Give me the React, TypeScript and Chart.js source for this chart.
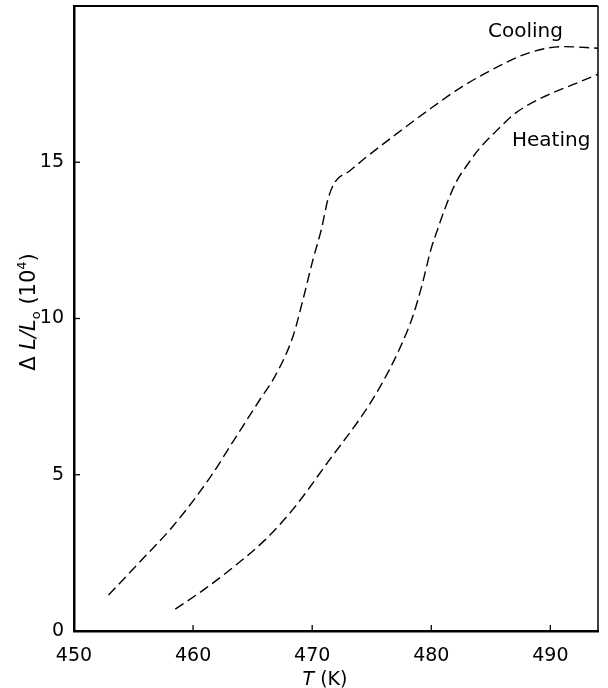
import { useEffect, useRef } from "react";
import { Chart, registerables } from "chart.js";

Chart.register(...registerables);

// Cooling curve: temperature (K) and ΔL/L0 (10^4)
const coolingT = [452.9, 455.5, 458.3, 461.4, 463.5, 465.6, 466.86, 468.39, 469.23, 470.07, 470.77, 471.32, 471.88, 473.14, 474.5, 477.05, 479.8, 482.6, 485.4, 488.2, 491.0, 494.0];
const coolingL = [1.15, 2.2, 3.35, 4.9, 6.15, 7.4, 8.14, 9.43, 10.61, 11.89, 12.85, 13.81, 14.35, 14.72, 15.15, 15.9, 16.68, 17.42, 18.02, 18.5, 18.7, 18.65];

// Heating curve
const heatingT = [458.5, 461.0, 463.4, 466.0, 468.4, 471.5, 474.2, 475.65, 477.3, 478.45, 479.27, 479.97, 480.53, 481.23, 482.07, 483.18, 484.0, 485.4, 487.1, 489.6, 492.4, 494.0];
const heatingL = [0.7, 1.35, 2.05, 2.9, 3.9, 5.5, 6.9, 7.78, 9.0, 10.07, 11.14, 12.21, 12.85, 13.6, 14.35, 15.0, 15.42, 15.98, 16.58, 17.12, 17.56, 17.82];

const xTickValues = [450, 460, 470, 480, 490];
const yTickValues = [0, 5, 10, 15];
const xLimits = [450, 494];
const yLimits = [0, 20];
const seriesNames = ["Cooling", "Heating"];

const FONT = "'DejaVu Sans', 'Liberation Sans', Arial, sans-serif";

type Run = { text: string; font: string; dy?: number };

function drawRuns(ctx: CanvasRenderingContext2D, runs: Run[], cx: number, cy: number) {
  let total = 0;
  const widths = runs.map((r) => {
    ctx.font = r.font;
    const w = ctx.measureText(r.text).width;
    total += w;
    return w;
  });
  let x = cx - total / 2;
  ctx.textBaseline = "alphabetic";
  ctx.textAlign = "left";
  runs.forEach((r, i) => {
    ctx.font = r.font;
    ctx.fillText(r.text, x, cy + (r.dy || 0));
    x += widths[i];
  });
}

const decorPlugin = {
  id: "decor",
  afterDraw(chart: any) {
    const { ctx, chartArea: a, scales } = chart;
    ctx.save();
    ctx.strokeStyle = "#000";
    ctx.fillStyle = "#000";
    // top and right frame
    ctx.lineWidth = 2;
    ctx.beginPath();
    ctx.moveTo(a.left, a.top);
    ctx.lineTo(a.right, a.top);
    ctx.stroke();
    ctx.lineWidth = 1.5;
    ctx.beginPath();
    ctx.moveTo(a.right, a.top);
    ctx.lineTo(a.right, a.bottom);
    ctx.stroke();
    // inward ticks
    ctx.lineWidth = 1.3;
    scales.x.ticks.forEach((t: any) => {
      const px = scales.x.getPixelForValue(t.value);
      ctx.beginPath();
      ctx.moveTo(px, a.bottom);
      ctx.lineTo(px, a.bottom - 6);
      ctx.stroke();
    });
    scales.y.ticks.forEach((t: any) => {
      const py = scales.y.getPixelForValue(t.value);
      ctx.beginPath();
      ctx.moveTo(a.left, py);
      ctx.lineTo(a.left + 6, py);
      ctx.stroke();
    });
    // curve labels
    ctx.textAlign = "left";
    ctx.textBaseline = "alphabetic";
    ctx.font = `20px ${FONT}`;
    ctx.fillText(seriesNames[0], 488, 37);
    ctx.fillText(seriesNames[1], 512, 146);

    // x title: T (K)
    drawRuns(
      ctx,
      [
        { text: "T", font: `italic 19px ${FONT}` },
        { text: " (K)", font: `19px ${FONT}` },
      ],
      325,
      685
    );

    // y title: ΔL/L0 (10^4), rotated
    ctx.save();
    ctx.translate(35, 312);
    ctx.rotate(-Math.PI / 2);
    drawRuns(
      ctx,
      [
        { text: "Δ ", font: `21px ${FONT}` },
        { text: "L", font: `italic 21px ${FONT}` },
        { text: "/", font: `italic 21px ${FONT}` },
        { text: "L", font: `italic 21px ${FONT}` },
        { text: "o", font: `13px ${FONT}`, dy: 5 },
        { text: " (10", font: `21px ${FONT}` },
        { text: "4", font: `13px ${FONT}`, dy: -9 },
        { text: ")", font: `21px ${FONT}` },
      ],
      0,
      0
    );
    ctx.restore();
    ctx.restore();
  },
};

export default function App() {
  const ref = useRef<HTMLCanvasElement | null>(null);

  useEffect(() => {
    if (!ref.current) return;
    const chart = new Chart(ref.current, {
      type: "line",
      data: {
        datasets: [
          {
            label: seriesNames[0],
            data: coolingT.map((t, i) => ({ x: t, y: coolingL[i] })),
            borderColor: "#000",
            borderWidth: 1.4,
            borderDash: [10, 5],
            pointRadius: 0,
            fill: false,
            cubicInterpolationMode: "monotone",
          },
          {
            label: seriesNames[1],
            data: heatingT.map((t, i) => ({ x: t, y: heatingL[i] })),
            borderColor: "#000",
            borderWidth: 1.4,
            borderDash: [10, 5],
            pointRadius: 0,
            fill: false,
            cubicInterpolationMode: "monotone",
          },
        ],
      },
      options: {
        animation: false,
        responsive: true,
        maintainAspectRatio: false,
        layout: { padding: { top: 6, right: 10, left: 0, bottom: 0 } },
        plugins: {
          legend: { display: false },
          tooltip: { enabled: false },
        },
        scales: {
          x: {
            type: "linear",
            min: xLimits[0],
            max: xLimits[1],
            grid: { display: false },
            border: { display: true, color: "#000", width: 2.5 },
            afterBuildTicks: (s: any) => {
              s.ticks = xTickValues.map((v) => ({ value: v }));
            },
            afterFit: (s: any) => {
              s.height = 57;
              s.paddingLeft = 0;
              s.paddingRight = 0;
            },
            ticks: {
              color: "#000",
              font: { family: FONT, size: 19 },
              padding: 6,
              maxRotation: 0,
              callback: (v: any) => String(v),
            },
          },
          y: {
            type: "linear",
            min: yLimits[0],
            max: yLimits[1],
            grid: { display: false },
            border: { display: true, color: "#000", width: 2.5 },
            afterBuildTicks: (s: any) => {
              s.ticks = yTickValues.map((v) => ({ value: v }));
            },
            afterFit: (s: any) => {
              s.width = 74;
              s.paddingTop = 0;
              s.paddingBottom = 0;
            },
            ticks: {
              color: "#000",
              font: { family: FONT, size: 19 },
              padding: 2,
              callback: (v: any) => String(v),
            },
          },
        },
      },
      plugins: [decorPlugin],
    });
    return () => chart.destroy();
  }, []);

  return (
    <div style={{ position: "fixed", left: 0, top: 0, width: 608, height: 688, background: "#fff" }}>
      <canvas ref={ref} />
    </div>
  );
}
